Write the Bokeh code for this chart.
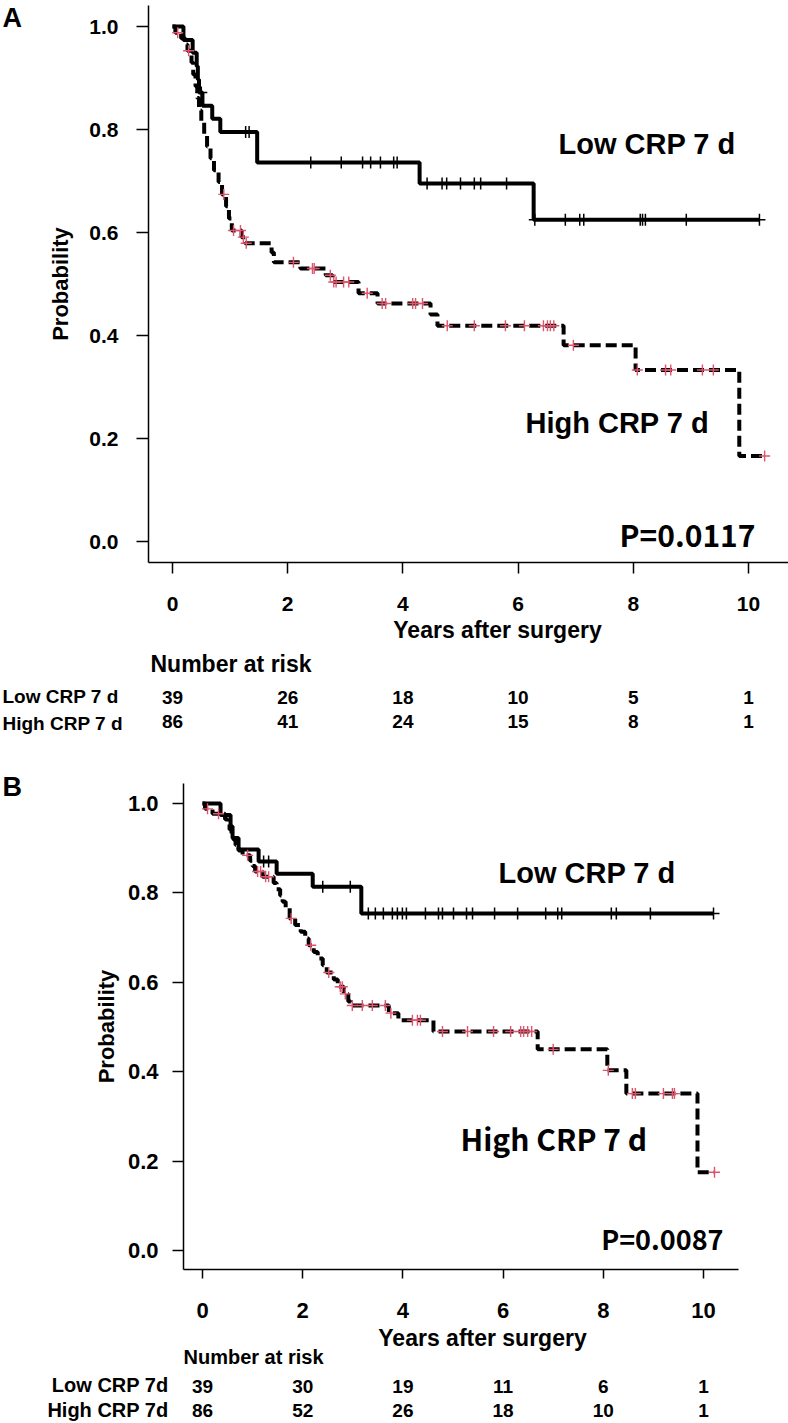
import numpy as np
from bokeh.plotting import figure
from bokeh.models import (Range1d, FixedTicker, NumeralTickFormatter, Label,
                          LabelSet, ColumnDataSource, LinearAxis)
from bokeh.layouts import column
from bokeh.core.properties import value
from bokeh.embed import file_html
from bokeh.resources import INLINE

# ---------------- data ----------------
x_ticks = [0, 2, 4, 6, 8, 10]
y_ticks = [0.0, 0.2, 0.4, 0.6, 0.8, 1.0]
risk_times = [0, 2, 4, 6, 8, 10]

curve_labels = ["Low CRP 7 d", "High CRP 7 d"]
risk_row_labels_a = ["Low CRP 7 d", "High CRP 7 d"]
risk_row_labels_b = ["Low CRP 7d", "High CRP 7d"]
p_values = ["P=0.0117", "P=0.0087"]

# Panel A - Low CRP 7 d
a_low_event_t = [0.19, 0.35, 0.42, 0.44, 0.46, 0.52, 0.69, 0.83, 1.47, 4.29, 6.27]
a_low_surv = [0.974, 0.949, 0.923, 0.897, 0.872, 0.846, 0.821, 0.795, 0.736, 0.695, 0.625]
a_low_censor = [0.50, 1.27, 1.33, 2.40, 2.93, 3.30, 3.44, 3.61, 3.84, 3.90, 4.42, 4.68,
                4.76, 5.00, 5.24, 5.35, 5.80, 6.29, 6.82, 7.07, 7.14, 8.12, 8.16, 8.21,
                8.92, 10.19]
# Panel A - High CRP 7 d
a_high_event_t = [0.05, 0.15, 0.22, 0.26, 0.33, 0.36, 0.40, 0.43, 0.46, 0.50, 0.55, 0.60,
                  0.66, 0.72, 0.80, 0.86, 0.93, 0.98, 1.03, 1.20, 1.26, 1.72, 1.76, 2.22,
                  2.66, 2.78, 3.23, 3.56, 4.48, 4.60, 6.79, 8.04, 9.84]
a_high_surv = [0.988, 0.977, 0.965, 0.953, 0.930, 0.907, 0.884, 0.861, 0.837, 0.814, 0.790,
               0.767, 0.744, 0.721, 0.698, 0.674, 0.651, 0.627, 0.604, 0.591, 0.579, 0.561,
               0.542, 0.530, 0.517, 0.504, 0.482, 0.462, 0.441, 0.419, 0.381, 0.333, 0.166]
a_high_censor = [0.09, 0.28, 0.89, 1.06, 1.18, 1.23, 1.28, 2.10, 2.43, 2.46, 2.74, 2.80,
                 2.84, 2.97, 3.06, 3.38, 3.64, 3.70, 4.17, 4.22, 4.34, 4.77, 5.24, 5.78,
                 6.11, 6.44, 6.51, 6.56, 6.62, 6.96, 8.07, 8.56, 8.65, 9.20, 9.39, 10.28]
a_low_risk = [39, 26, 18, 10, 5, 1]
a_high_risk = [86, 41, 24, 15, 8, 1]

# Panel B - Low CRP 7 d
b_low_event_t = [0.36, 0.56, 0.60, 0.72, 1.12, 1.48, 2.20, 3.17]
b_low_surv = [0.974, 0.949, 0.923, 0.897, 0.870, 0.843, 0.814, 0.754]
b_low_censor = [1.22, 1.32, 2.40, 2.95, 3.31, 3.45, 3.61, 3.79, 3.89, 3.99, 4.07, 4.45,
                4.71, 4.79, 5.01, 5.27, 5.39, 5.83, 6.29, 6.85, 7.09, 7.17, 8.16, 8.26,
                8.94, 10.20]
# Panel B - High CRP 7 d
b_high_event_t = [0.05, 0.20, 0.45, 0.50, 0.54, 0.58, 0.62, 0.66, 0.72, 0.80, 0.95, 1.00,
                  1.05, 1.20, 1.42, 1.48, 1.55, 1.60, 1.66, 1.74, 1.85, 1.96, 2.05, 2.12,
                  2.22, 2.30, 2.40, 2.48, 2.62, 2.70, 2.82, 2.91, 2.96, 3.72, 3.91, 4.61,
                  6.69, 8.08, 8.46, 9.88]
b_high_surv = [0.988, 0.977, 0.965, 0.954, 0.942, 0.930, 0.919, 0.907, 0.895, 0.884, 0.872,
               0.860, 0.848, 0.836, 0.822, 0.808, 0.794, 0.780, 0.766, 0.743, 0.728, 0.713,
               0.698, 0.683, 0.668, 0.653, 0.638, 0.622, 0.606, 0.590, 0.574, 0.557, 0.548,
               0.531, 0.515, 0.490, 0.450, 0.403, 0.351, 0.175]
b_high_censor = [0.10, 0.32, 0.90, 1.10, 1.16, 1.26, 1.32, 1.77, 2.16, 2.52, 2.75, 2.79,
                 2.85, 2.99, 3.19, 3.39, 3.65, 3.76, 4.19, 4.29, 4.35, 4.79, 5.29, 5.81,
                 6.15, 6.35, 6.41, 6.49, 6.57, 7.00, 8.10, 8.58, 8.64, 9.20, 9.38, 9.42,
                 10.22]
b_low_risk = [39, 30, 19, 11, 6, 1]
b_high_risk = [86, 52, 26, 18, 10, 1]

# ---------------- styling ----------------
RED = "#DF536B"
FONT = "Liberation Sans"
CJK = "Noto Sans CJK JP"


def surv_at(times, event_t, surv):
    s = np.concatenate([[1.0], np.asarray(surv, dtype=float)])
    idx = np.searchsorted(np.asarray(event_t, dtype=float), np.asarray(times, dtype=float),
                          side="right")
    return s[idx]


def step_xy(event_t, surv, censor):
    end = max(max(censor), max(event_t))
    xs = [0.0] + list(event_t) + [end]
    ys = [1.0] + list(surv) + [surv[-1]]
    return xs, ys


def build(cfg, low, high, risk_low, risk_high, row_labels, pval, letter):
    # cfg["map"]: pixel position of t=0, px per year, pixel of p=0, px per unit
    X0, XS, Y0, YS = cfg["map"]

    def dx(rx):
        return (rx - X0) / XS

    def dy(ry):
        return (Y0 - ry) / YS

    w, h = cfg["w"], cfg["h"]
    left_px, top_px = cfg["origin"]          # page pixel at the canvas top-left
    fl, fr, ft, fb = cfg["frame"]            # axis box in page pixels

    p = figure(width=w, height=h,
               x_range=Range1d(dx(left_px), dx(left_px + w)),
               y_range=Range1d(dy(top_px + h), dy(top_px)),
               x_axis_location=None, y_axis_location=None,
               output_backend="svg", toolbar_location=None,
               min_border=0, min_border_left=0, min_border_right=0,
               min_border_top=0, min_border_bottom=0)
    p.outline_line_color = None
    p.xgrid.visible = False
    p.ygrid.visible = False
    p.background_fill_color = "white"
    p.border_fill_color = "white"

    xaxis = LinearAxis(fixed_location=dy(fb), bounds=(dx(fl), dx(fr)),
                       ticker=FixedTicker(ticks=x_ticks))
    yaxis = LinearAxis(fixed_location=dx(fl), bounds=(dy(fb), dy(ft)),
                       ticker=FixedTicker(ticks=y_ticks),
                       formatter=NumeralTickFormatter(format="0.0"))
    for ax in (xaxis, yaxis):
        ax.axis_line_width = 1.5
        ax.axis_line_color = "black"
        ax.major_tick_line_width = 1.5
        ax.major_tick_line_color = "black"
        ax.major_tick_in = 0
        ax.minor_tick_line_color = None
        ax.major_label_text_font = FONT
        ax.major_label_text_font_style = "bold"
        ax.major_label_text_color = "black"
        ax.major_label_text_font_size = cfg["tick_fs"]
    xaxis.major_tick_out = cfg["xtick_out"]
    yaxis.major_tick_out = cfg["ytick_out"]
    xaxis.major_label_standoff = cfg["xstand"]
    yaxis.major_label_standoff = cfg["ystand"]
    yaxis.axis_label = "Probability"
    yaxis.axis_label_text_font = FONT
    yaxis.axis_label_text_font_style = "bold"
    yaxis.axis_label_text_font_size = "22px"
    yaxis.axis_label_text_color = "black"
    yaxis.axis_label_standoff = cfg["ylab_stand"]
    p.add_layout(xaxis, "below")
    p.add_layout(yaxis, "left")

    # curves
    lx, ly = step_xy(*low)
    hx, hy = step_xy(*high)
    p.step(lx, ly, mode="after", line_color="black", line_width=4)
    p.step(hx, hy, mode="after", line_color="black", line_width=4, line_dash="11 5")
    p.scatter(low[2], surv_at(low[2], low[0], low[1]), marker="cross", size=12,
              line_color="black", line_width=1.5)
    p.scatter(high[2], surv_at(high[2], high[0], high[1]), marker="cross", size=11,
              line_color=RED, line_width=1.4)

    def lab(rx, ry, text, size, align="left", font=FONT, bold=True):
        p.add_layout(Label(x=dx(rx), y=dy(ry), text=text, text_font=font,
                           text_font_size=f"{size}px",
                           text_font_style="bold" if bold else "normal",
                           text_align=align, text_baseline="middle", text_color="black"))

    T = cfg["texts"]
    lab(*T["letter"], letter, 27)
    lab(*T["low"], curve_labels[0], 29)
    lab(*T["high"][:2], curve_labels[1], T["high"][2], font=T["high"][3], bold=True)
    lab(*T["p"][:2], pval, T["p"][2], align="right", font=CJK, bold=True)
    lab(*T["xlab"], "Years after surgery", 23, align="center")
    lab(*T["nrisk"][:2], "Number at risk", T["nrisk"][2])
    ra = T["rows_align"]
    lab(T["rows_x"], T["rows_y"][0], row_labels[0], T["rows_fs"], align=ra)
    lab(T["rows_x"], T["rows_y"][1], row_labels[1], T["rows_fs"], align=ra)

    for vals, ry in ((risk_low, T["num_y"][0]), (risk_high, T["num_y"][1])):
        src = ColumnDataSource(dict(x=risk_times, y=[dy(ry)] * len(risk_times),
                                    t=[str(v) for v in vals]))
        p.add_layout(LabelSet(x="x", y="y", text="t", source=src,
                              text_font=value(FONT), text_font_size=value("19px"),
                              text_font_style=value("bold"), text_align="center",
                              text_baseline="middle", text_color="black"))
    return p


cfg_a = dict(
    w=788, h=745, origin=(0, 0), map=(172.0, 57.6, 541.0, 515.0), frame=(148, 788, 5, 562),
    tick_fs="21px", xtick_out=11, ytick_out=12,
    xstand=23, ystand=18, ylab_stand=13,
    texts=dict(letter=(2, 17), low=(558, 143), high=(525, 422.5, 29, FONT),
               p=(755, 533.5, 30), xlab=(497, 629.5), nrisk=(150, 663.5, 23),
               rows_x=2, rows_y=(695.5, 723), rows_fs=19, rows_align="left",
               num_y=(697, 720.5)))

cfg_b = dict(
    w=788, h=677, origin=(0, 745), map=(202.0, 50.1, 1250.0, 447.0), frame=(183, 738, 783, 1269),
    tick_fs="22px", xtick_out=9, ytick_out=11,
    xstand=24, ystand=14, ylab_stand=6,
    texts=dict(letter=(2, 786), low=(498, 872), high=(460, 1137.5, 30, CJK),
               p=(723, 1237.5, 27), xlab=(482, 1337), nrisk=(183, 1356.5, 20),
               rows_x=168, rows_y=(1384, 1409), rows_fs=20, rows_align="right",
               num_y=(1386, 1410)))

pA = build(cfg_a, (a_low_event_t, a_low_surv, a_low_censor),
           (a_high_event_t, a_high_surv, a_high_censor),
           a_low_risk, a_high_risk, risk_row_labels_a, p_values[0], "A")
pB = build(cfg_b, (b_low_event_t, b_low_surv, b_low_censor),
           (b_high_event_t, b_high_surv, b_high_censor),
           b_low_risk, b_high_risk, risk_row_labels_b, p_values[1], "B")

layout = column(pA, pB, spacing=0)
open("out.html", "w").write(file_html(layout, INLINE))
